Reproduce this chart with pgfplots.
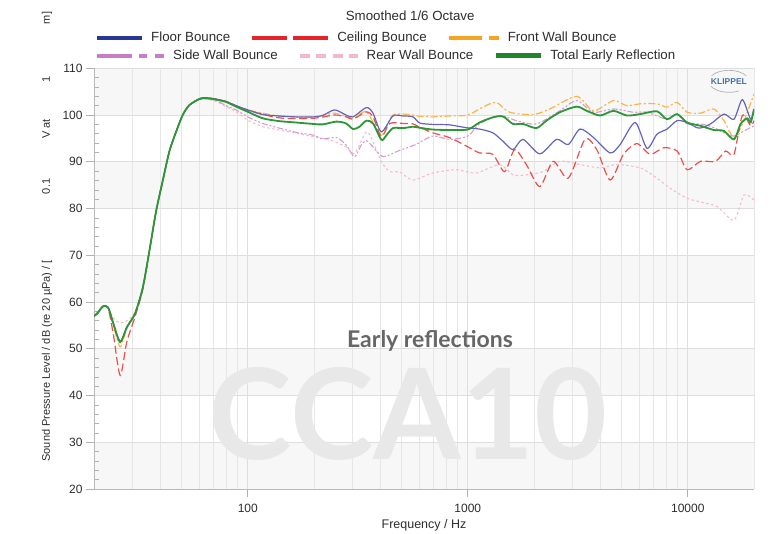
\documentclass[border=0pt]{standalone}
\usepackage{fontspec}
\setmainfont{Liberation Sans}
\newfontfamily\lato{Lato}
\usepackage{pgfplots}
\pgfplotsset{compat=1.18}

\definecolor{floorP}{RGB}{100,100,188}
\definecolor{ceilP}{RGB}{235,80,75}
\definecolor{frontP}{RGB}{247,182,75}
\definecolor{sideP}{RGB}{212,155,212}
\definecolor{rearP}{RGB}{245,188,200}
\definecolor{totalP}{RGB}{45,150,55}
\definecolor{floorL}{RGB}{40,55,150}
\definecolor{ceilL}{RGB}{230,35,40}
\definecolor{frontL}{RGB}{245,165,35}
\definecolor{sideL}{RGB}{200,125,200}
\definecolor{rearL}{RGB}{243,185,200}
\definecolor{totalL}{RGB}{30,135,45}
\definecolor{band}{RGB}{247,247,247}
\definecolor{gridc}{RGB}{222,222,222}
\definecolor{txt}{RGB}{45,45,45}
\definecolor{klip}{RGB}{70,115,165}

\pgfplotsset{
  basegeom/.style={
    at={(94pt,45pt)}, anchor=south west,
    width=660pt, height=420.7pt, scale only axis,
  },
  legrow/.style={
    basegeom, hide axis, xmin=0, xmax=1, ymin=0, ymax=1,
    legend columns=-1,
    legend cell align=left,
    legend style={at={(axis description cs:#1)}, anchor=west,
      draw=none, fill=none, inner xsep=0pt, inner ysep=0pt,
      font=\fontsize{13.3}{15}\selectfont, text=txt,
      /tikz/every odd column/.append style={column sep=5pt},
      /tikz/every even column/.append style={column sep=18pt}},
  },
}

\begin{document}
\begin{tikzpicture}

\begin{axis}[
  basegeom,
  set layers,
  xmode=log,
  xmin=20, xmax=20000, ymin=20, ymax=110,
  xtick={100,1000,10000},
  xticklabels={100,1000,10000},
  minor xtick={20,30,40,50,60,70,80,90,200,300,400,500,600,700,800,900,2000,3000,4000,5000,6000,7000,8000,9000,20000},
  ytick={20,30,...,110},
  minor y tick num=4,
  axis x line*=bottom, axis y line*=left,
  axis line style={gray!55, line width=0.8pt},
  tick align=outside,
  major tick length=8pt,
  minor tick length=-5pt,
  minor x tick style={draw=none},
  tick style={gray!60, line width=0.6pt},
  xmajorgrids, xminorgrids, ymajorgrids,
  major grid style={gridc, line width=0.6pt},
  minor grid style={gridc!75, line width=0.5pt},
  /pgf/number format/assume math mode=true,
  tick label style={font=\fontsize{12}{14}\selectfont, text=txt},
  xticklabel style={yshift=-4pt},
  xlabel={Frequency / Hz},
  xlabel style={at={(axis description cs:0.50,-0.086)}, anchor=center, font=\fontsize{12.5}{14}\selectfont, text=txt},
  ylabel={Sound Pressure Level / dB (re 20 µPa) / [\hspace{66pt}0.1\hspace{40pt}V at\hspace{37pt}1\hspace{52pt}m]},
  ylabel style={at={(axis description cs:-0.0712,0.057)}, anchor=west, font=\fontsize{11}{13}\selectfont, text=txt},
  title={Smoothed 1/6 Octave},
  title style={at={(axis description cs:0.479,1.110)}, anchor=center, font=\fontsize{13.3}{15}\selectfont, text=txt},
  every axis plot/.append style={smooth, tension=0.45},
]
\begin{pgfonlayer}{axis background}
\fill[band] (rel axis cs:0,0) rectangle (rel axis cs:1,0.11111);
\fill[band] (rel axis cs:0,0.22222) rectangle (rel axis cs:1,0.33333);
\fill[band] (rel axis cs:0,0.44444) rectangle (rel axis cs:1,0.55556);
\fill[band] (rel axis cs:0,0.66667) rectangle (rel axis cs:1,0.77778);
\fill[band] (rel axis cs:0,0.88889) rectangle (rel axis cs:1,1);
\end{pgfonlayer}

% Rear Wall Bounce
\addplot[rearP, line width=1.1pt, dash pattern=on 2.5pt off 2.5pt] coordinates {
(20,57.0) (20.7,57.6) (22.0,59.1) (23.2,58.8) (24.5,56.5) (26.3,55.5) (28.2,56.0) (30.7,57.8) (33.3,63.0) (35.7,70.9) (38.3,79.4) (41.0,85.8) (44.0,92.2) (47.2,96.4) (50.6,100.0) (54.2,102.1) (60.2,103.3) (64.6,103.4)
(71.8,102.9) (79.7,101.8) (88.5,100.7) (100,98.9) (117,97.5) (139,96.8) (198,95.4) (235,94.7) (280,93.2) (306,91.8) (346,96.4) (371,94.3) (405,90.0) (442,87.9) (490,87.8) (564,86.1) (692,87.6) (885,88.3) (1091,87.6) (1395,89.4) (1604,87.2) (1846,87.2) (2199,87.9) (2622,90.1) (3237,89.4) (3996,88.7) (4757,89.4) (6078,88.7) (7244,86.5) (8336,84.3) (9931,82.2) (11420,81.4) (13610,80.4) (16220,77.5) (18010,82.9) (20000,81.8)
};
% Side Wall Bounce
\addplot[sideP, line width=1.1pt, dash pattern=on 6pt off 2pt on 2pt off 2pt on 2pt off 2pt] coordinates {
(20,57.0) (20.7,57.6) (22.0,59.1) (23.2,58.8) (24.5,55.4) (26.3,51.5) (28.2,54.6) (30.7,57.5) (33.3,63.0) (35.7,70.9) (38.3,79.4) (41.0,85.8) (44.0,92.2) (47.2,96.4) (50.6,100.0) (54.2,102.1) (60.2,103.4) (64.6,103.5)
(71.8,103.1) (79.7,102.0) (88.5,101.1) (100,99.6) (117,98.2) (139,97.2) (166,96.3) (198,95.7) (219,94.9) (253,95.2) (280,93.6) (306,91.1) (328,93.6) (346,94.5) (371,93.2) (412,91.1) (488,92.4) (581,93.7) (692,95.5) (824,94.8) (1000,95.5) (1130,98.1) (1395,99.9) (1662,98.8) (2051,98.1) (2622,100.9) (3126,103.1) (3726,100.6) (4594,101.3) (5668,100.6) (6520,100.6) (8049,99.1) (8943,100.2) (9931,98.1) (11420,98.1) (13140,97.3) (14600,96.2) (16220,95.5) (18010,96.6) (20000,97.7)
};
% Front Wall Bounce
\addplot[frontP, line width=1.2pt, dash pattern=on 7pt off 2.5pt on 2pt off 2.5pt] coordinates {
(20,57.0) (20.7,57.6) (22.0,59.1) (23.2,58.8) (24.5,55.0) (26.3,50.4) (28.2,54.3) (30.7,57.5) (33.3,63.0) (35.7,70.9) (38.3,79.4) (41.0,85.8) (44.0,92.2) (47.2,96.4) (50.6,100.0) (54.2,102.1) (60.2,103.5) (64.6,103.7) (71.8,103.4) (79.7,102.9) (88.5,102.0)
(100,101.1) (139,99.8) (198,99.6) (248,100.4) (301,99.3) (346,100.7) (405,95.7) (457,100.0) (564,100.0) (604,99.7) (692,99.6) (824,99.8) (1000,100.0) (1171,101.7) (1347,102.7) (1549,100.6) (1980,100.1) (2360,101.3) (3126,104.0) (3726,100.9) (4594,103.1) (5284,102.0) (6078,102.4) (7244,102.4) (8049,101.7) (8943,102.7) (9931,100.6) (11420,100.4) (13140,101.3) (14600,98.8) (16220,95.2) (18010,98.8) (20000,104.5)
};
% Ceiling Bounce
\addplot[ceilP, line width=1.2pt, dash pattern=on 8pt off 3.5pt] coordinates {
(20,57.0) (20.7,57.4) (22.0,59.0) (23.2,58.6) (24.5,53.0) (26.3,44.3) (28.2,51.5) (30.7,56.8) (33.3,62.6) (35.7,70.9) (38.3,79.4) (41.0,85.8) (44.0,92.2) (47.2,96.4) (50.6,100.0) (54.2,102.1) (60.2,103.5) (64.6,103.7) (71.8,103.4) (79.7,102.9) (88.5,102.0)
(100,101.0) (139,99.4) (198,99.3) (248,100.0) (280,99.6) (301,99.1) (346,100.7) (371,99.6) (405,95.4) (442,98.2) (508,98.2) (564,98.1) (604,97.4) (692,96.2) (824,95.2) (983,93.4) (1130,91.9) (1300,91.6) (1470,87.9) (1633,92.6) (1846,89.4) (2125,84.7) (2444,90.1) (2863,86.5) (3411,94.8) (3858,92.6) (4436,86.1) (5102,91.6) (5868,93.9) (6752,91.6) (7772,93.0) (8943,92.3) (9931,88.3) (11420,90.1) (13370,90.1) (14860,92.3) (16220,91.6) (17700,99.9) (19320,97.7) (20000,98.8)
};
% Floor Bounce
\addplot[floorP, line width=1.2pt] coordinates {
(20,57.0) (20.7,57.6) (22.0,59.1) (23.2,58.8) (24.5,55.2) (26.3,51.6) (28.2,54.6) (30.7,57.5) (33.3,63.0) (35.7,70.9) (38.3,79.4) (41.0,85.8) (44.0,92.2) (47.2,96.4) (50.6,100.0) (54.2,102.1) (60.2,103.5) (64.6,103.7) (71.8,103.4) (79.7,102.9) (88.5,102.0)
(100,101.1) (117,100.1) (139,99.8) (166,99.6) (198,99.6) (219,99.9) (248,101.1) (280,100.0) (301,99.6) (346,101.6) (371,100.4) (405,96.4) (457,99.8) (508,99.8) (564,99.6) (604,98.3) (692,98.0) (824,97.9) (983,97.3) (1130,97.0) (1300,96.2) (1445,94.4) (1604,92.6) (1783,94.8) (2125,91.7) (2531,94.8) (2863,93.7) (3237,97.0) (3726,95.2) (4436,91.9) (4927,93.7) (5766,98.4) (6520,92.9) (7244,95.9) (8049,97.0) (8943,98.8) (9931,98.4) (11220,97.2) (12690,98.1) (14600,100.2) (16220,99.1) (17700,103.3) (19320,99.1) (20000,101.3)
};
% Total Early Reflection
\addplot[totalP, line width=1.8pt] coordinates {
(20,57.0) (20.7,57.6) (22.0,59.1) (23.2,58.8) (24.5,55.4) (26.3,51.4) (28.2,54.6) (30.7,57.5) (33.3,63.0) (35.7,70.9) (38.3,79.4) (41.0,85.8) (44.0,92.2) (47.2,96.4) (50.6,100.0) (54.2,102.1) (60.2,103.4) (64.6,103.6) (71.8,103.3) (79.7,102.8) (88.5,101.8)
(100,100.7) (117,99.3) (139,98.7) (166,98.4) (198,98.1) (219,98.0) (253,98.6) (280,98.2) (301,97.0) (322,97.5) (346,98.8) (371,98.2) (405,94.7) (427,95.7) (457,97.2) (508,97.2) (564,97.5) (601,97.3) (692,96.9) (824,96.8) (1000,96.9) (1130,98.4) (1300,99.5) (1445,99.7) (1604,98.1) (1783,98.1) (2051,97.2) (2278,98.8) (2622,100.6) (3126,101.8) (3473,100.9) (3996,99.9) (4594,100.9) (5284,99.9) (6078,100.2) (7244,100.8) (8049,99.1) (8943,100.2) (9931,98.4) (11420,97.7) (13140,96.8) (14600,96.6) (16220,94.8) (17390,98.1) (18650,99.3) (19320,98.4) (20000,101.3)
};

\node[font=\lato\bfseries\fontsize{126}{126}\selectfont, text=black!9] at (axis description cs:0.476,0.178) {CCA10};
\node[font=\lato\bfseries\fontsize{23}{25}\selectfont, text=black!60] at (axis description cs:0.509,0.352) {Early reflections};
\node[font=\bfseries\fontsize{8.5}{9}\selectfont, text=klip] (klip) at (axis description cs:0.962,0.969) {KLIPPEL};
\draw[gray!60, line width=0.7pt] (klip.center) ++(150:20pt and 11pt) arc[start angle=150, end angle=30, x radius=20pt, y radius=11pt];
\draw[gray!60, line width=0.7pt] (klip.center) ++(205:20pt and 11pt) arc[start angle=205, end angle=300, x radius=20pt, y radius=11pt];
\end{axis}

% Legend row 1
\begin{axis}[legrow={0.0015,1.0727}]
\addlegendimage{legend image code/.code={\draw[floorL, line width=4pt] (0pt,0pt) -- (45pt,0pt);}}
\addlegendentry{Floor Bounce}
\addlegendimage{legend image code/.code={\draw[ceilL, line width=4pt, dash pattern=on 35pt off 6pt] (0pt,0pt) -- (76pt,0pt);}}
\addlegendentry{Ceiling Bounce}
\addlegendimage{legend image code/.code={\draw[frontL, line width=4pt, dash pattern=on 33pt off 7pt on 10pt off 7pt] (0pt,0pt) -- (50pt,0pt);}}
\addlegendentry{Front Wall Bounce}
\end{axis}

% Legend row 2
\begin{axis}[legrow={0.0015,1.030}]
\addlegendimage{legend image code/.code={\draw[sideL, line width=4pt, dash pattern=on 35pt off 7pt on 8pt off 8pt on 9pt off 8pt] (0pt,0pt) -- (67pt,0pt);}}
\addlegendentry{Side Wall Bounce}
\addlegendimage{legend image code/.code={\draw[rearL, line width=4pt, dash pattern=on 10pt off 6.5pt] (0pt,0pt) -- (58pt,0pt);}}
\addlegendentry{Rear Wall Bounce}
\addlegendimage{legend image code/.code={\draw[totalL, line width=5pt] (0pt,0pt) -- (45pt,0pt);}}
\addlegendentry{Total Early Reflection}
\end{axis}

\pgfresetboundingbox
\useasboundingbox (0,0) rectangle (771pt,534pt);
\end{tikzpicture}
\end{document}
